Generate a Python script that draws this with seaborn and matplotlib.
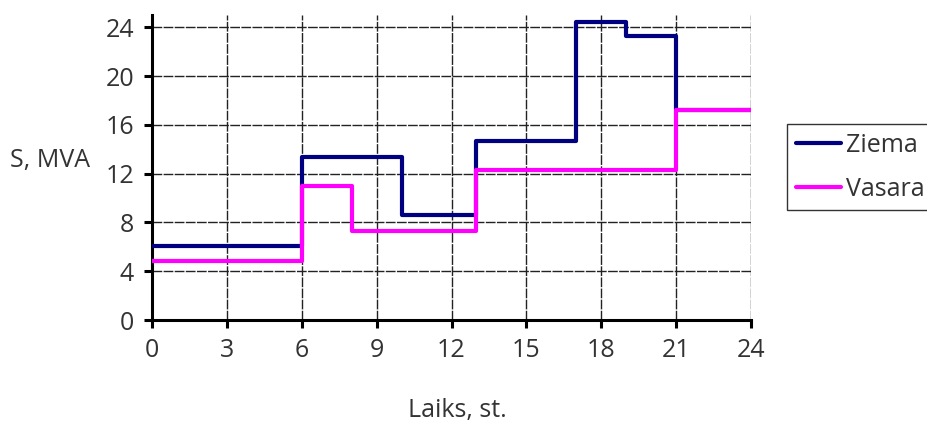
import matplotlib
matplotlib.use("Agg")
import matplotlib.pyplot as plt
import seaborn as sns
import pandas as pd

ziema_hours = [0, 6, 10, 13, 17, 19, 21, 24]
ziema_values = [6.1, 13.4, 8.6, 14.7, 24.4, 23.3, 17.2, 17.2]
vasara_hours = [0, 6, 8, 13, 21, 24]
vasara_values = [4.8, 11.0, 7.3, 12.3, 17.2, 17.2]
x_ticks = [0, 3, 6, 9, 12, 15, 18, 21, 24]
y_ticks = [0, 4, 8, 12, 16, 20, 24]
series_names = ["Ziema", "Vasara"]
colors = ["#000080", "#FF00FF"]

sns.set_style("white")
plt.rcParams["font.family"] = ["Open Sans", "DejaVu Sans"]
text_color = "#333333"
fs = 18

df = pd.concat([
    pd.DataFrame({"h": ziema_hours, "S": ziema_values, "s": series_names[0]}),
    pd.DataFrame({"h": vasara_hours, "S": vasara_values, "s": series_names[1]}),
])

fig = plt.figure(figsize=(9.27, 4.23), dpi=100)
ax = fig.add_axes([152/927, 1-320/423, (751-152)/927, (320-15)/423])

sns.lineplot(data=df, x="h", y="S", hue="s", palette=colors, drawstyle="steps-post",
             estimator=None, sort=False, linewidth=3, ax=ax, legend=True, zorder=3)

ax.set_xlim(0, 24)
ax.set_ylim(0, 25)
ax.set_xticks(x_ticks)
ax.set_yticks(y_ticks)
ax.grid(True, color="#222222", linestyle=(0, (7, 1)), linewidth=1.0, zorder=0)
ax.set_axisbelow(True)
for sp in ["top", "right"]:
    ax.spines[sp].set_visible(False)
for sp in ["left", "bottom"]:
    ax.spines[sp].set_color("black")
    ax.spines[sp].set_linewidth(2.2)
ax.tick_params(axis="both", which="major", direction="out", length=6, width=2.2,
               color="black", labelsize=fs, labelcolor=text_color, pad=7,
               left=True, bottom=True)
ax.set_xlabel("")
ax.set_ylabel("")

leg = ax.legend(loc="upper left", bbox_to_anchor=(787/927, 1-124/423),
                bbox_transform=fig.transFigure, frameon=True, fancybox=False,
                fontsize=fs, handlelength=1.8, handletextpad=0.2,
                borderpad=0.35, labelspacing=0.75, borderaxespad=0)
leg.get_frame().set_edgecolor("black")
leg.get_frame().set_linewidth(1)
for t in leg.get_texts():
    t.set_color(text_color)
for l in leg.get_lines():
    l.set_linewidth(3)

fig.text(10/927, 1-160/423, "S, MVA", ha="left", va="center", fontsize=fs, color=text_color)
fig.text(457/927, 1-410/423, "Laiks, st.", ha="center", va="center", fontsize=fs, color=text_color)

fig.savefig("out.png", dpi=100)
